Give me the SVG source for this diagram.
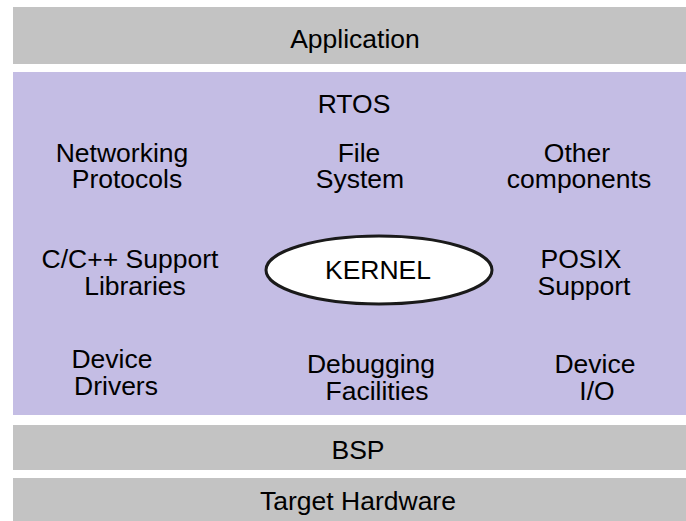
<svg xmlns="http://www.w3.org/2000/svg" width="686" height="521" viewBox="0 0 686 521">
  <style>
    .bar { fill: #c3c3c3; }
    .rtos { fill: #c4bde4; }
    .lbl { font-family: "Liberation Sans", Arial, sans-serif; font-size: 26.5px; fill: #000; text-anchor: middle; }
    .kernel { fill: #ffffff; stroke: #1a1a1a; stroke-width: 3; }
  </style>
  <rect width="686" height="521" fill="#ffffff"/>

  <g id="application">
    <rect class="bar" x="13" y="7" width="673" height="57"/>
    <text class="lbl" x="355" y="48">Application</text>
  </g>

  <g id="rtos">
    <rect class="rtos" x="13" y="72" width="673" height="343"/>
    <text class="lbl" x="354" y="113">RTOS</text>
  </g>

  <g id="networking">
    <text class="lbl" x="122" y="162">Networking</text>
    <text class="lbl" x="127" y="188">Protocols</text>
  </g>
  <g id="filesystem">
    <text class="lbl" x="359" y="162">File</text>
    <text class="lbl" x="360" y="188">System</text>
  </g>
  <g id="other">
    <text class="lbl" x="577" y="162">Other</text>
    <text class="lbl" x="579" y="188">components</text>
  </g>

  <g id="cpp-support">
    <text class="lbl" x="130" y="268">C/C++ Support</text>
    <text class="lbl" x="135" y="295">Libraries</text>
  </g>
  <g id="kernel">
    <ellipse class="kernel" cx="379" cy="270" rx="113" ry="34"/>
    <text class="lbl" x="378" y="279">KERNEL</text>
  </g>
  <g id="posix">
    <text class="lbl" x="581" y="268">POSIX</text>
    <text class="lbl" x="584" y="295">Support</text>
  </g>

  <g id="device-drivers">
    <text class="lbl" x="112" y="368">Device</text>
    <text class="lbl" x="116" y="395">Drivers</text>
  </g>
  <g id="debugging">
    <text class="lbl" x="371" y="373">Debugging</text>
    <text class="lbl" x="377" y="400">Facilities</text>
  </g>
  <g id="device-io">
    <text class="lbl" x="595" y="373">Device</text>
    <text class="lbl" x="597" y="400">I/O</text>
  </g>

  <g id="bsp">
    <rect class="bar" x="13" y="425" width="673" height="45"/>
    <text class="lbl" x="358" y="459">BSP</text>
  </g>

  <g id="target-hardware">
    <rect class="bar" x="13" y="478" width="673" height="43"/>
    <text class="lbl" x="358" y="510">Target Hardware</text>
  </g>

  <g id="connectors"/>
</svg>
